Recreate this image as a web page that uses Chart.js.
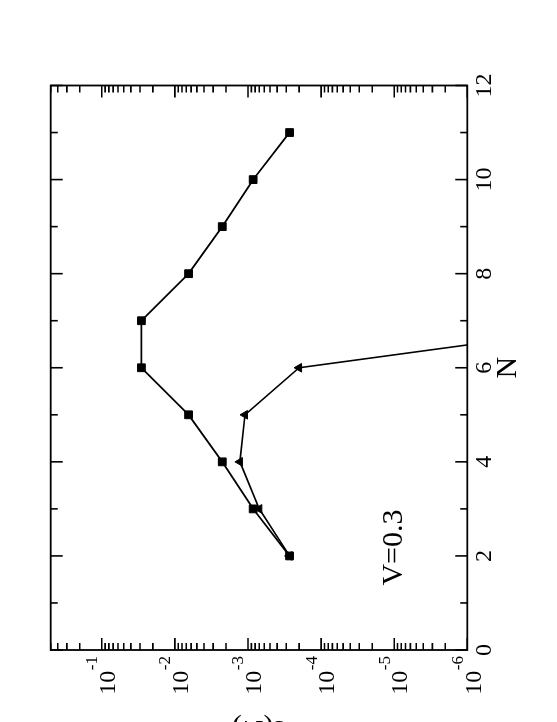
<!DOCTYPE html>
<html>
<head>
<meta charset="utf-8">
<script src="https://cdn.jsdelivr.net/npm/chart.js@4.4.0/dist/chart.umd.min.js"></script>
<style>
  html, body { margin: 0; padding: 0; background: #fff; overflow: hidden; width: 557px; height: 722px; }
  /* the whole figure is printed turned a quarter turn counter-clockwise */
  #plot { position: absolute; left: 0; top: 0; transform-origin: 0 0; transform: translate(0px, 760px) rotate(-90deg); }
</style>
</head>
<body>
<canvas id="plot" width="760" height="557"></canvas>
<script>
// data
const squareN = [2, 3, 4, 5, 6, 7, 8, 9, 10, 11];
const squareValues = [2.7e-4, 8.5e-4, 2.25e-3, 6.5e-3, 2.87e-2, 2.87e-2, 6.5e-3, 2.25e-3, 8.5e-4, 2.7e-4];
const triangleN = [2, 3, 4, 5, 6, 7];
const triangleValues = [2.7e-4, 7.0e-4, 1.29e-3, 1.10e-3, 2.0e-4, 3.6e-9];
const nTicks = [0, 1, 2, 3, 4, 5, 6, 7, 8, 9, 10, 11, 12];
const decadeExponents = [-1, -2, -3, -4, -5, -6];
const annotationText = 'V=0.3';

const serif = "'Liberation Serif', 'Times New Roman', serif";
Chart.defaults.font.family = serif;
Chart.defaults.color = '#000';

const framePlugin = {
  id: 'frame',
  afterDraw(chart) {
    const { ctx, chartArea: a, scales: { x, y } } = chart;
    ctx.save();
    ctx.strokeStyle = '#000';
    ctx.lineWidth = 1.8;
    ctx.strokeRect(a.left, a.top, a.right - a.left, a.bottom - a.top);

    // inward ticks, mirrored on both sides
    ctx.lineWidth = 1.6;
    ctx.beginPath();
    nTicks.forEach(n => {
      const px = x.getPixelForValue(n);
      const len = n % 2 === 0 ? 12 : 7;
      ctx.moveTo(px, a.bottom); ctx.lineTo(px, a.bottom - len);
      ctx.moveTo(px, a.top); ctx.lineTo(px, a.top + len);
    });
    for (let e = -6; e <= 0; e++) {
      for (let m = 1; m <= 9; m++) {
        const v = m * Math.pow(10, e);
        if (v < y.min || v > y.max * 1.0001) continue;
        const py = y.getPixelForValue(v);
        const len = m === 1 ? 12 : 7;
        ctx.moveTo(a.left, py); ctx.lineTo(a.left + len, py);
        ctx.moveTo(a.right, py); ctx.lineTo(a.right - len, py);
      }
    }
    ctx.stroke();

    // decade labels 10^-k
    ctx.fillStyle = '#000';
    ctx.textBaseline = 'alphabetic';
    decadeExponents.forEach(k => {
      const py = y.getPixelForValue(Math.pow(10, k));
      ctx.font = '24px ' + serif;
      ctx.textAlign = 'right';
      ctx.fillText('10', a.left - 20.7, py + 13.3);
      ctx.font = '17px ' + serif;
      ctx.textAlign = 'left';
      ctx.fillText(String(k), a.left - 20.2, py - 4.5);
    });

    // annotation
    ctx.font = '30px ' + serif;
    ctx.textAlign = 'left';
    ctx.fillText(annotationText, x.getPixelForValue(1.37), y.getPixelForValue(7.9e-6));
    ctx.restore();
  }
};

new Chart(document.getElementById('plot'), {
  type: 'line',
  data: {
    datasets: [
      {
        label: 'squares',
        data: squareN.map((n, i) => ({ x: n, y: squareValues[i] })),
        borderColor: '#000', backgroundColor: '#000', borderWidth: 1.8,
        pointStyle: 'rect', pointRadius: 5.5, pointBorderWidth: 1, tension: 0, fill: false
      },
      {
        label: 'triangles',
        data: triangleN.map((n, i) => ({ x: n, y: triangleValues[i] })),
        borderColor: '#000', backgroundColor: '#000', borderWidth: 1.6,
        pointStyle: 'triangle', pointRadius: 5, pointBorderWidth: 1, tension: 0, fill: false
      }
    ]
  },
  options: {
    responsive: false,
    animation: false,
    layout: { padding: { top: 50.7, right: 85.5, bottom: 0, left: 0 } },
    plugins: { legend: { display: false }, tooltip: { enabled: false } },
    scales: {
      x: {
        type: 'linear', min: 0, max: 12, position: 'bottom',
        grid: { display: false, drawTicks: false }, border: { display: false },
        ticks: { stepSize: 2, color: '#000', font: { size: 24 }, padding: 3, maxRotation: 0, autoSkip: false },
        title: { display: true, text: 'N', color: '#000', font: { size: 30 }, padding: { top: 0, bottom: 31 } },
        afterFit(s) { s.height = 89.7; }
      },
      y: {
        type: 'logarithmic', min: 1e-6, max: 0.5, position: 'left',
        grid: { display: false, drawTicks: false }, border: { display: false },
        ticks: { display: false },
        title: { display: true, text: 'ε(N)', color: '#000', font: { size: 30 }, padding: { top: 13, bottom: 0 } },
        afterFit(s) { s.width = 110; }
      }
    }
  },
  plugins: [framePlugin]
});
</script>
</body>
</html>
